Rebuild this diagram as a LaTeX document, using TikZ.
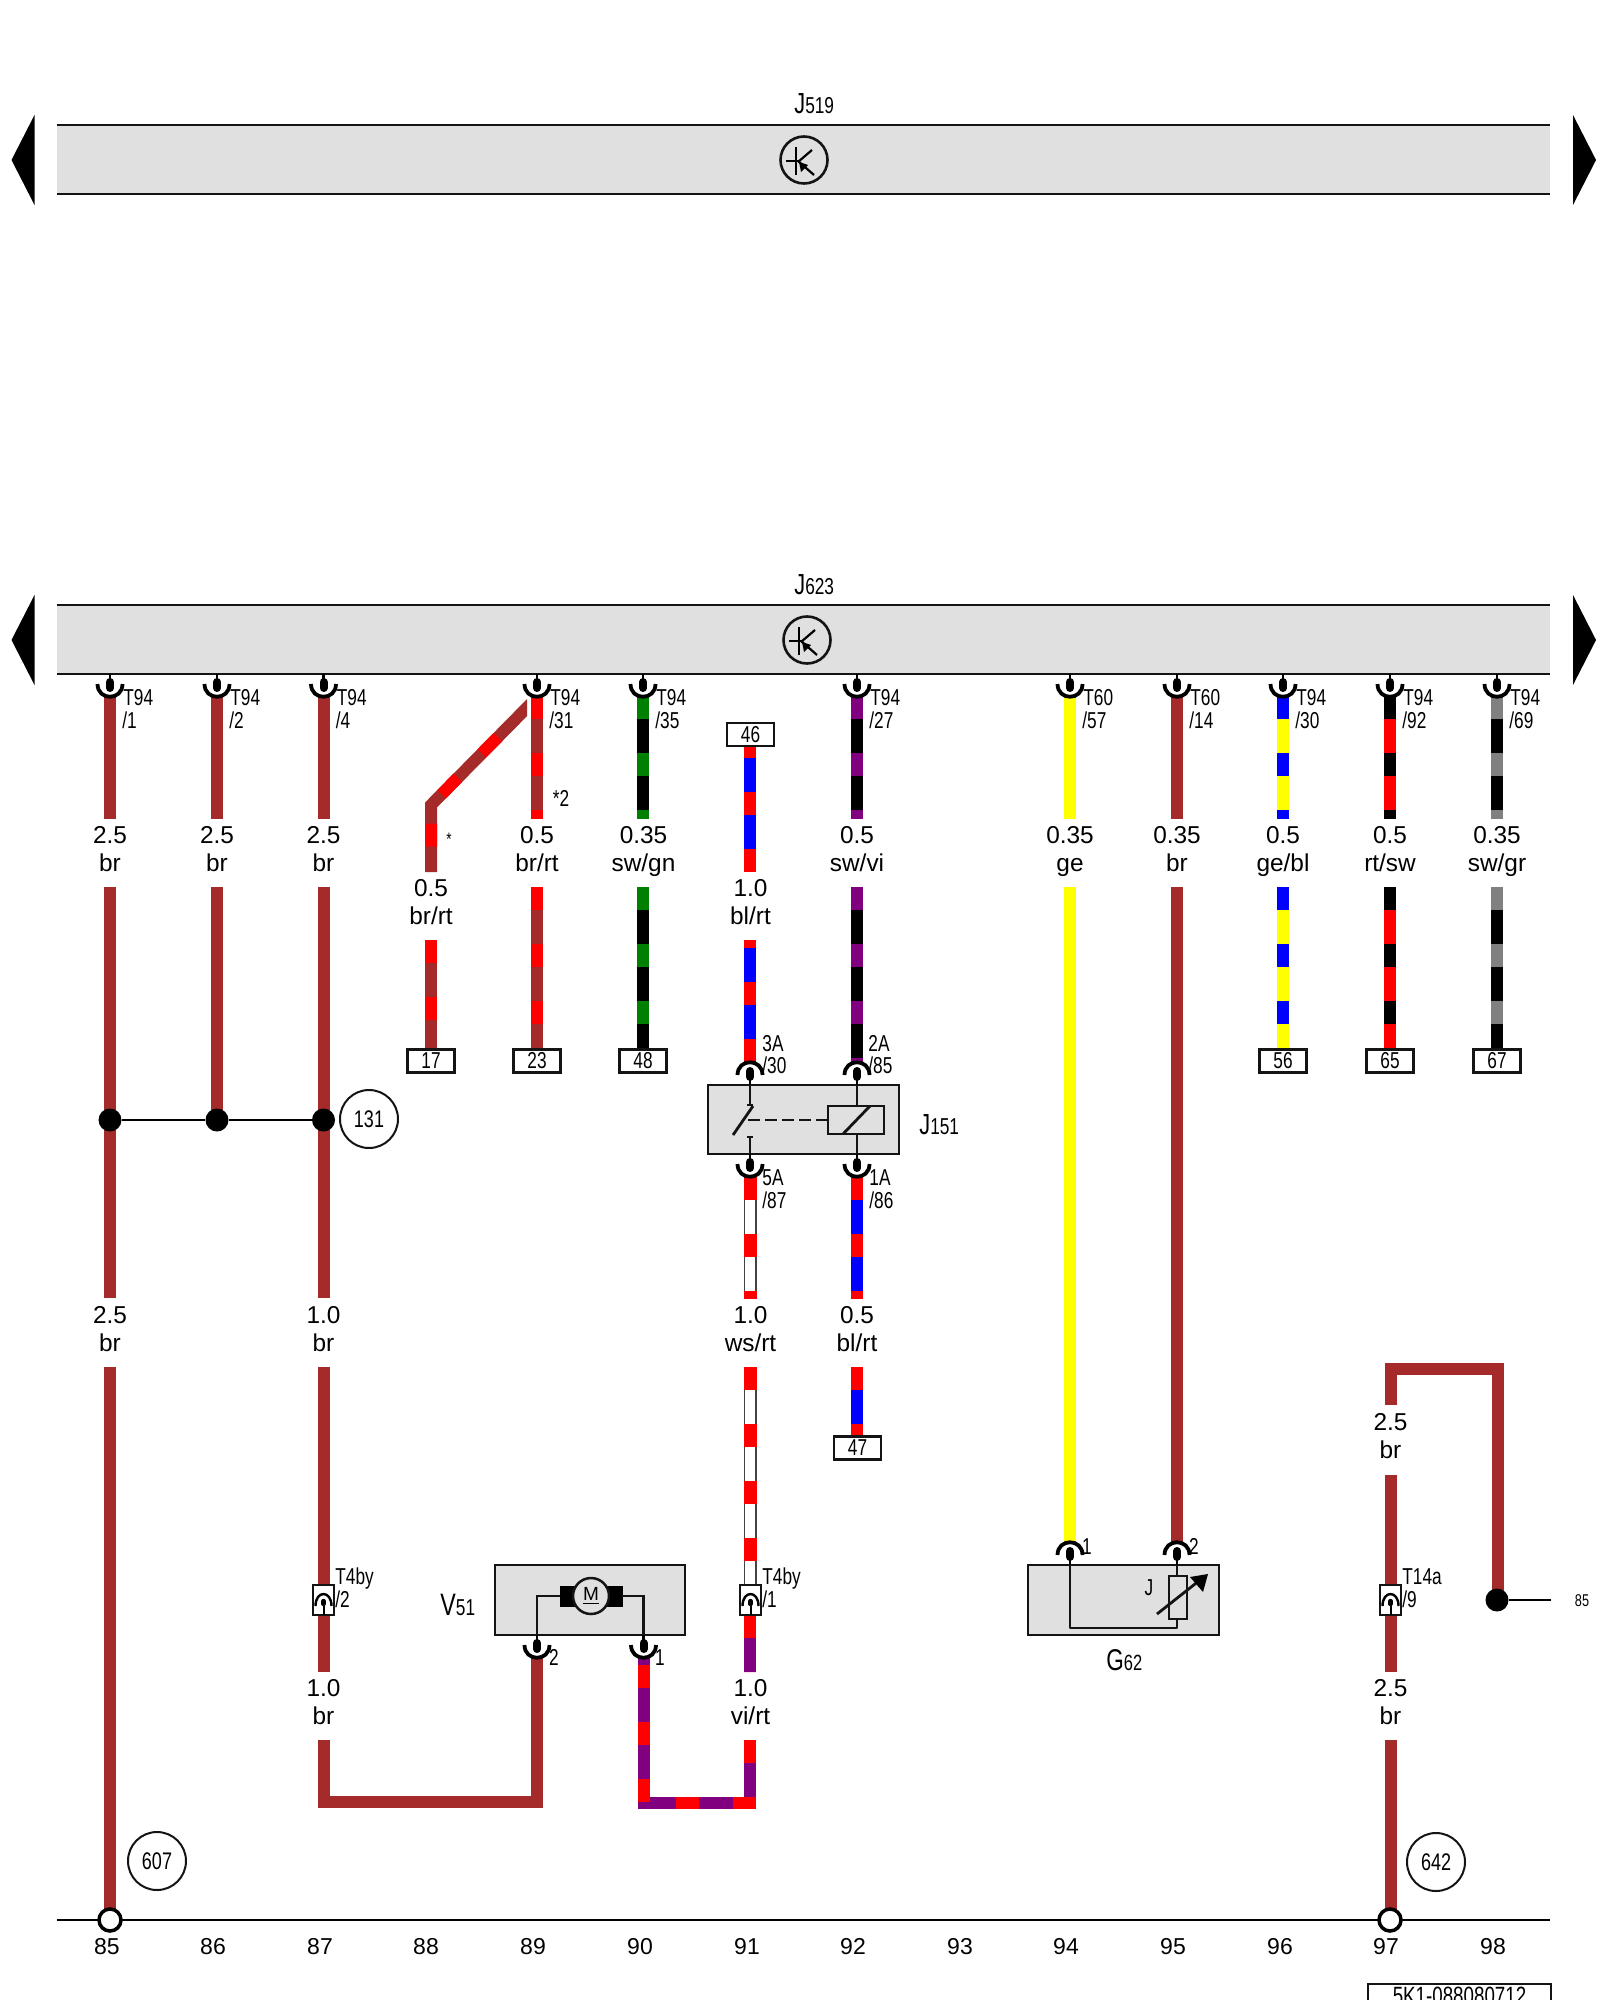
\documentclass[tikz,border=0pt]{standalone}
\usepackage{fontspec}
\setmainfont{Liberation Sans}
\newfontfamily\nrw[FakeStretch=0.75]{Liberation Sans}
\definecolor{wbr}{RGB}{165,42,42}
\definecolor{wrt}{RGB}{255,0,0}
\definecolor{wbl}{RGB}{0,0,255}
\definecolor{wgn}{RGB}{0,128,0}
\definecolor{wge}{RGB}{255,255,0}
\definecolor{wvi}{RGB}{128,0,128}
\definecolor{wgr}{RGB}{128,128,128}
\definecolor{wsw}{RGB}{0,0,0}
\definecolor{bandgray}{RGB}{224,224,224}
\definecolor{ink}{RGB}{20,20,20}
\tikzset{
  wire/.style={line width=6pt,line cap=butt,line join=miter},
  stripe/.style={wire,dash pattern=on 11.5pt off 17pt},
  ink3/.style={draw=ink,line width=1.4pt},
  pinline/.style={draw=black,line width=1.4pt},
  bulb/.style={draw=black,line width=4pt,line cap=round},
  cupline/.style={draw=black,line width=1.9pt,line cap=butt},
  comp/.style={draw=ink,line width=1.25pt,fill=bandgray},
  numbox/.style={draw=ink,line width=1.1pt,fill=white,minimum width=23.5pt,minimum height=11.5pt,inner sep=0pt,font=\nrw\fontsize{11.5}{11}\selectfont},
  refcirc/.style={circle,draw=ink,line width=1pt,fill=white,minimum size=29pt,inner sep=0pt,font=\nrw\fontsize{12}{12}\selectfont},
  jdot/.style={circle,fill=black,minimum size=11.5pt,inner sep=0pt},
  tsym/.style={circle,draw=ink,line width=1.3pt,minimum size=23.5pt,inner sep=0pt},
  wlab/.style={anchor=base,inner sep=0pt,font=\fontsize{12.2}{13}\selectfont},
  ptag/.style={anchor=base west,inner sep=0pt,font=\nrw\fontsize{11.5}{12}\selectfont},
  ptagc/.style={anchor=base,inner sep=0pt,font=\nrw\fontsize{11.5}{12}\selectfont},
  bigname/.style={anchor=base west,inner sep=0pt},
}
\newcommand\pseg[5]{\coordinate (#1a) at (#3,#4); \coordinate (#1b) at (#3,#5); \draw[wire,#2] (#1a) -- (#1b);}
\newcommand\sseg[7]{\coordinate (#1a) at (#4,#5); \coordinate (#1b) at (#4,#6);
  \draw[wire,#2] (#1a) -- (#1b); \draw[stripe,#3,dash phase=#7pt] (#1a) -- (#1b);}
\newcommand\wrseg[5]{\coordinate (#1a) at (#2,#3); \coordinate (#1b) at (#2,#4);
  \draw[line width=6.5pt,draw=ink!80] (#1a) -- (#1b); \draw[line width=5.4pt,white] (#1a) -- (#1b);
  \draw[line width=6.5pt,wrt,dash pattern=on 11.5pt off 17pt,dash phase=#5pt] (#1a) -- (#1b);}
% connector below a box, bottom edge of the box at y=#3
\newcommand\fdown[3]{\coordinate (#1) at (#2,#3);
  \draw[pinline] (#1) -- (#2,#3+6); \draw[bulb] (#2,#3+8) -- (#2,#3+14);
  \draw[cupline] (#2-12.5,#3+10) .. controls (#2-12.5,#3+27) and (#2+12.5,#3+27) .. (#2+12.5,#3+10);}
% connector above a box, top edge of the box at y=#3
\newcommand\fup[3]{\coordinate (#1) at (#2,#3);
  \draw[pinline] (#1) -- (#2,#3-6); \draw[bulb] (#2,#3-8) -- (#2,#3-14);
  \draw[cupline] (#2-12.5,#3-10) .. controls (#2-12.5,#3-27) and (#2+12.5,#3-27) .. (#2+12.5,#3-10);}
% in-line connector
\newcommand\inl[2]{\node[draw=ink,line width=1pt,fill=white,minimum width=10.5pt,minimum height=15pt,inner sep=0pt] (#1) at (#2,1600) {};
  \draw[black,line width=1pt] (#2,1615) -- (#2,1603);
  \draw[black,line width=2.2pt,line cap=round] (#2,1601) -- (#2,1604);
  \draw[black,line width=1.2pt] (#2-8,1606) .. controls (#2-8,1590) and (#2+8,1590) .. (#2+8,1606);}
\newcommand\vlab[5]{\node[wlab] (#1n) at (#2,#3) {#4}; \node[wlab] (#1c) at (#2,#3+28) {#5};}
\newcommand\ttag[5]{\node[ptag] (#1t) at (#2+13,#3) {#4}; \node[ptag] (#1p) at (#2+12,#3+23) {#5};}
\newcommand\band[3]{% id, top y, circle x
  \fill[bandgray] (57,#2) rectangle (1550,#2+69);
  \coordinate (#1tl) at (57,#2); \coordinate (#1tr) at (1550,#2);
  \coordinate (#1bl) at (57,#2+69); \coordinate (#1br) at (1550,#2+69);
  \draw[ink3] (#1tl) -- (#1tr); \draw[ink3] (#1bl) -- (#1br);
  \fill[black] (34.5,#2-10) -- (11.5,#2+35) -- (34.5,#2+80) -- cycle;
  \fill[black] (1573,#2-10) -- (1596,#2+35) -- (1573,#2+80) -- cycle;
  \node[tsym] (#1sym) at (#3,#2+35) {};
  \draw[black,line width=1.1pt] (#3-8,#2+22) -- (#3-8,#2+50);
  \draw[black,line width=1.1pt] (#3-18,#2+36) -- (#3-5,#2+36);
  \draw[black,line width=1.1pt] (#3-6,#2+37) -- (#3+8,#2+25);
  \draw[black,line width=1.1pt] (#3-6,#2+36) -- (#3+10,#2+50);
  \fill[black] (#3-5,#2+37) -- (#3+4,#2+40) -- (#3-3,#2+47) -- cycle;
}
\begin{document}
\begin{tikzpicture}[x=0.5pt,y=-0.5pt]
\useasboundingbox (0,0) rectangle (1600,2000);
\fill[white] (0,0) rectangle (1600,2000);

% ---------- control units
\band{ja}{125}{804}
\node[bigname] (jal) at (794,114) {\nrw\fontsize{14.5}{15}\selectfont J\fontsize{11.5}{12}\selectfont 519};
\band{jb}{605}{807}
\node[bigname] (jbl) at (794,594) {\nrw\fontsize{14.5}{15}\selectfont J\fontsize{11.5}{12}\selectfont 623};

% ---------- wires
% column 85
\pseg{a1}{wbr}{110}{696}{819}
\pseg{a2}{wbr}{110}{887}{1298}
\pseg{a3}{wbr}{110}{1367}{1910}
% column 86
\pseg{b1}{wbr}{217}{696}{819}
\pseg{b2}{wbr}{217}{887}{1120}
% column 87
\pseg{c1}{wbr}{323.5}{696}{819}
\pseg{c2}{wbr}{323.5}{887}{1298}
\pseg{c3}{wbr}{323.5}{1367}{1672}
\coordinate (c4a) at (323.5,1740); \coordinate (c4b) at (323.5,1801.5); \coordinate (c4c) at (537,1801.5); \coordinate (c4d) at (537,1657);
\draw[wire,wbr] (c4a) -- (c4b) -- (c4c) -- (c4d);
% column 88, branch of 89
\begin{scope}
  \clip (380,680) rectangle (527,900);
  \coordinate (d1a) at (533,701.5); \coordinate (d1b) at (431,805); \coordinate (d1c) at (431,872);
  \draw[wire,wbr] (d1a) -- (d1b) -- (d1c);
  \draw[wire,wrt,dash pattern=on 0pt off 25pt on 11.5pt off 17pt on 11.5pt off 17pt on 11.5pt off 100pt] (d1a) -- (d1b) -- (d1c);
\end{scope}
\sseg{d2}{wbr}{wrt}{431}{940}{1050}{0}
% column 89
\sseg{e1}{wbr}{wrt}{537}{696}{819}{0}
\sseg{e2}{wbr}{wrt}{537}{887}{1050}{0}
% column 90
\sseg{f1}{wsw}{wgn}{643}{696}{819}{0}
\sseg{f2}{wsw}{wgn}{643}{887}{1050}{0}
% column 91
\sseg{g1}{wbl}{wrt}{750}{746}{872}{5.5}
\sseg{g2}{wbl}{wrt}{750}{940}{1063}{7.5}
\wrseg{g3}{750}{1177}{1299}{0}
\wrseg{g4}{750}{1367}{1586}{0}
\sseg{g5}{wvi}{wrt}{750}{1615}{1672}{0}
\coordinate (g6a) at (750,1740); \coordinate (g6b) at (750,1803); \coordinate (g6c) at (643.5,1803); \coordinate (g6d) at (643.5,1657);
\draw[wire,wvi] (g6a) -- (g6b) -- (g6c) -- (g6d);
\draw[stripe,wrt] (g6a) -- (g6b) -- (g6c) -- (g6d);
% column 92
\sseg{h1}{wsw}{wvi}{857}{696}{819}{0}
\sseg{h2}{wsw}{wvi}{857}{887}{1063}{0}
\sseg{h3}{wbl}{wrt}{857}{1177}{1299}{0}
\sseg{h4}{wbl}{wrt}{857}{1367}{1437}{0}
% column 94, 95
\pseg{i1}{wge}{1070}{696}{819}
\pseg{i2}{wge}{1070}{887}{1543}
\pseg{j1}{wbr}{1177}{696}{819}
\pseg{j2}{wbr}{1177}{887}{1543}
% column 96, 97, 98 upper
\sseg{k1}{wge}{wbl}{1283}{696}{819}{0}
\sseg{k2}{wge}{wbl}{1283}{887}{1050}{0}
\sseg{l1}{wrt}{wsw}{1390}{696}{819}{0}
\sseg{l2}{wrt}{wsw}{1390}{887}{1050}{0}
\sseg{m1}{wsw}{wgr}{1497}{696}{819}{0}
\sseg{m2}{wsw}{wgr}{1497}{887}{1050}{0}
% column 97, 98 lower
\coordinate (n1a) at (1390.5,1405); \coordinate (n1b) at (1390.5,1369); \coordinate (n1c) at (1497.5,1369); \coordinate (n1d) at (1497.5,1600);
\draw[wire,wbr] (n1a) -- (n1b) -- (n1c) -- (n1d);
\pseg{n2}{wbr}{1390.5}{1475}{1672}
\pseg{n3}{wbr}{1390.5}{1740}{1910}

% ---------- connectors at J623
\foreach \i/\cx in {1/110,2/217,3/323.5,4/537,5/643,6/857,7/1070,8/1177,9/1283,10/1390,11/1497}{
  \fdown{ft\i}{\cx}{674}
}
% ---------- labels of the wires
\vlab{la}{110}{843}{2.5}{br}
\vlab{lb}{217}{843}{2.5}{br}
\vlab{lc}{323.5}{843}{2.5}{br}
\vlab{ld}{431}{896}{0.5}{br/rt}
\vlab{le}{537}{843}{0.5}{br/rt}
\vlab{lf}{643.5}{843}{0.35}{sw/gn}
\vlab{lg}{750.5}{896}{1.0}{bl/rt}
\vlab{lh}{857}{843}{0.5}{sw/vi}
\vlab{li}{1070}{843}{0.35}{ge}
\vlab{lj}{1177}{843}{0.35}{br}
\vlab{lk}{1283}{843}{0.5}{ge/bl}
\vlab{ll}{1390}{843}{0.5}{rt/sw}
\vlab{lm}{1497}{843}{0.35}{sw/gr}
\vlab{ma}{110}{1323}{2.5}{br}
\vlab{mc}{323.5}{1323}{1.0}{br}
\vlab{mg}{750.5}{1323}{1.0}{ws/rt}
\vlab{mh}{857}{1323}{0.5}{bl/rt}
\vlab{nc}{323.5}{1696}{1.0}{br}
\vlab{ng}{750.5}{1696}{1.0}{vi/rt}
\vlab{nn}{1390.5}{1696}{2.5}{br}
\vlab{on}{1390.5}{1430}{2.5}{br}

% ---------- pin tags
\ttag{ta}{110}{705}{T94}{/1}
\ttag{tb}{217}{705}{T94}{/2}
\ttag{tc}{323.5}{705}{T94}{/4}
\ttag{te}{537}{705}{T94}{/31}
\ttag{tf}{643}{705}{T94}{/35}
\ttag{th}{857}{705}{T94}{/27}
\ttag{ti}{1070}{705}{T60}{/57}
\ttag{tj}{1177}{705}{T60}{/14}
\ttag{tk}{1283}{705}{T94}{/30}
\ttag{tl}{1390}{705}{T94}{/92}
\ttag{tm}{1497}{705}{T94}{/69}
\node[ptag] (s1) at (762,1051) {3A};
\node[ptag] (s2) at (762,1073) {/30};
\node[ptag] (s3) at (868,1051) {2A};
\node[ptag] (s4) at (868,1073) {/85};
\node[ptag] (s5) at (762,1185) {5A};
\node[ptag] (s6) at (762,1208) {/87};
\node[ptag] (s7) at (869,1185) {1A};
\node[ptag] (s8) at (869,1208) {/86};
\node[ptag] (s9) at (335,1584) {T4by};
\node[ptag] (s10) at (335,1607) {/2};
\node[ptag] (s11) at (762,1584) {T4by};
\node[ptag] (s12) at (762,1607) {/1};
\node[ptag] (s13) at (1402,1584) {T14a};
\node[ptag] (s14) at (1402,1607) {/9};
\node[ptagc] (s15) at (1087,1554) {1};
\node[ptagc] (s16) at (1194,1554) {2};
\node[ptagc] (s17) at (554,1665) {2};
\node[ptagc] (s18) at (660,1665) {1};
\node[anchor=base,inner sep=0pt,font=\nrw\fontsize{9}{9}\selectfont] (s19) at (449,845) {*};
\node[ptagc] (s20) at (561,806) {*2};

% ---------- terminal boxes
\node[numbox] (b46) at (750.5,734.5) {46};
\node[numbox] (b17) at (431,1061) {17};
\node[numbox] (b23) at (537,1061) {23};
\node[numbox] (b48) at (643,1061) {48};
\node[numbox] (b56) at (1283,1061) {56};
\node[numbox] (b65) at (1390,1061) {65};
\node[numbox] (b67) at (1497,1061) {67};
\node[numbox] (b47) at (857.5,1448) {47};

% ---------- J151 relay
\draw[comp] (708,1085) rectangle (899,1154);
\fup{r1}{750}{1085}
\fup{r2}{857}{1085}
\fdown{r3}{750}{1154}
\fdown{r4}{857}{1154}
\draw[ink3] (r1) -- (750,1105);
\draw[ink3] (747,1105) -- (753,1105);
\draw[ink3] (753,1106) -- (733,1135);
\draw[ink3] (747,1137) -- (753,1137);
\draw[ink3] (750,1137) -- (r3);
\draw[ink3,dash pattern=on 6pt off 2.5pt] (748,1120) -- (828,1120);
\draw[ink3,fill=none] (828,1106) rectangle (884,1134);
\draw[ink3] (r2) -- (857,1106);
\draw[ink3] (857,1134) -- (r4);
\draw[ink3] (843,1134) -- (870,1106);
\node[bigname] (jcl) at (919,1134) {\nrw\fontsize{14.5}{15}\selectfont J\fontsize{11.5}{12}\selectfont 151};

% ---------- V51 motor
\draw[comp] (495,1565) rectangle (685,1635);
\fdown{v1}{537}{1635}
\fdown{v2}{643.5}{1635}
\node[draw=black,fill=black,minimum width=7pt,minimum height=10pt,inner sep=0pt] (vl) at (567,1596) {};
\node[draw=black,fill=black,minimum width=7.5pt,minimum height=10pt,inner sep=0pt] (vr) at (614.5,1596) {};
\node[circle,draw=ink,line width=1.25pt,fill=bandgray,minimum size=18pt,inner sep=0pt,font=\fontsize{9.5}{10}\selectfont] (vm) at (591,1596) {\underline{M}};
\draw[ink3] (v1) -- (537,1596) -- (vl.west);
\draw[ink3] (v2) -- (643.5,1596) -- (vr.east);
\node[bigname] (vlb) at (440,1615) {\nrw\fontsize{15.5}{16}\selectfont V\fontsize{11.5}{12}\selectfont 51};

% ---------- G62 sender
\draw[comp] (1028,1565) rectangle (1219,1635);
\fup{g1}{1070}{1565}
\fup{g2}{1177}{1565}
\draw[ink3,line join=round] (g1) -- (1070,1628) -- (1177,1628) -- (1177,1619);
\draw[ink3] (g2) -- (1177,1576);
\node[draw=ink,line width=1.4pt,minimum width=9pt,minimum height=21.5pt,inner sep=0pt] (gr) at (1178,1597.5) {};
\coordinate (ga) at (1157,1614); \coordinate (gb) at (1200,1580);
\draw[ink3] (ga) -- (gb);
\fill[black] (1208,1574) -- (1190,1577) -- (1203,1592) -- cycle;
\node[anchor=base,inner sep=0pt,font=\nrw\fontsize{11.5}{12}\selectfont] (gj) at (1149,1595) {J};
\node[bigname] (glb) at (1106,1670) {\nrw\fontsize{15}{16}\selectfont G\fontsize{11}{12}\selectfont 62};

% ---------- in-line connectors
\inl{ca}{323.5}
\inl{cb}{750.5}
\inl{cc}{1390.5}

% ---------- junctions and references
\node[jdot] (p1) at (110,1120) {};
\node[jdot] (p2) at (217,1120) {};
\node[jdot] (p3) at (323.5,1120) {};
\draw[pinline] (p1) -- (p2) -- (p3);
\node[refcirc] (r131) at (369,1119) {131};
\node[refcirc] (r607) at (157,1861) {607};
\node[refcirc] (r642) at (1436,1862) {642};
\node[jdot] (p4) at (1497,1600) {};
\coordinate (p5) at (1551,1600);
\draw[line width=1pt,black] (p4) -- (p5);
\node[anchor=center,inner sep=0pt,font=\nrw\fontsize{8.5}{9}\selectfont] (n85) at (1582,1601) {85};

% ---------- ground line with column numbers
\coordinate (gl) at (57,1920); \coordinate (gr2) at (1550,1920);
\draw[pinline] (gl) -- (gr2);
\node[circle,draw=black,line width=1.75pt,fill=white,minimum size=11pt,inner sep=0pt] (g85) at (110,1920) {};
\node[circle,draw=black,line width=1.75pt,fill=white,minimum size=11pt,inner sep=0pt] (g97) at (1390,1920) {};
\foreach \n/\cx in {85/107,86/213,87/320,88/426,89/533,90/640,91/747,92/853,93/960,94/1066,95/1173,96/1280,97/1386,98/1493}{
  \node[anchor=base,inner sep=0pt,font=\fontsize{11.5}{12}\selectfont] (col\n) at (\cx,1954) {\n};
}
% ---------- drawing number
\draw[ink3,fill=white,line width=1.25pt] (1368,1984) rectangle (1551,2012);
\node[anchor=base,inner sep=0pt,font=\nrw\fontsize{12.5}{13}\selectfont] (dn) at (1459.5,2004) {5K1-088080712};
\end{tikzpicture}
\end{document}
